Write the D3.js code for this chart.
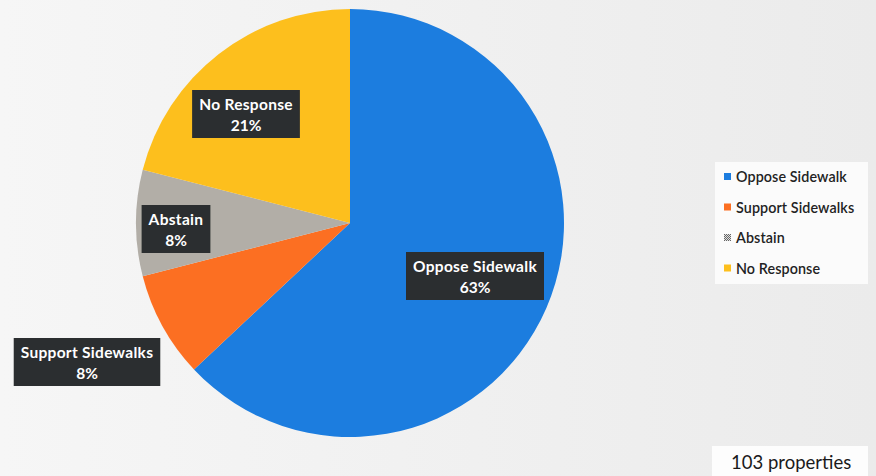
<!DOCTYPE html>
<html>
<head>
<meta charset="utf-8">
<script src="https://cdn.jsdelivr.net/npm/d3@7"></script>
<style>
  html, body { margin: 0; padding: 0; background: #f0f0f0; }
  svg { display: block; }
</style>
</head>
<body>
<svg id="chart" width="876" height="476"></svg>
<script>
const categories = ["Oppose Sidewalk", "Support Sidewalks", "Abstain", "No Response"];
const values = [63, 8, 8, 21];
const percentLabels = ["63%", "8%", "8%", "21%"];
const colors = ["#1c7ddf", "#fc6f22", "#b2aea7", "#fdbf1d"];
const footnote = "103 properties";

const W = 876, H = 476;
const svg = d3.select("#chart");

const defs = svg.append("defs");
const bg = defs.append("linearGradient").attr("id", "bg").attr("x1", 0).attr("x2", 1).attr("y1", 0).attr("y2", 0);
bg.append("stop").attr("offset", "0%").attr("stop-color", "#f6f6f6");
bg.append("stop").attr("offset", "100%").attr("stop-color", "#ebebeb");
const pat = defs.append("pattern").attr("id", "hatch").attr("width", 2).attr("height", 2).attr("patternUnits", "userSpaceOnUse");
pat.append("rect").attr("width", 2).attr("height", 2).attr("fill", "#e0e0e0");
pat.append("rect").attr("width", 1).attr("height", 1).attr("fill", "#666");
pat.append("rect").attr("x", 1).attr("y", 1).attr("width", 1).attr("height", 1).attr("fill", "#666");

svg.append("rect").attr("width", W).attr("height", H).attr("fill", "url(#bg)");

const cx = 350, cy = 223, r = 214;
const pie = d3.pie().sort(null).value(d => d.value);
const arcs = pie(categories.map((c, i) => ({ name: c, value: values[i], label: percentLabels[i], color: colors[i] })));
const arc = d3.arc().innerRadius(0).outerRadius(r);

const g = svg.append("g").attr("transform", `translate(${cx},${cy})`);
g.selectAll("path").data(arcs).join("path")
  .attr("d", arc)
  .attr("fill", d => d.data.color);

const labelPos = {
  "Oppose Sidewalk": [475, 276],
  "Support Sidewalks": [87, 362],
  "Abstain": [176, 229],
  "No Response": [246, 114]
};
const font = "Lato, 'Open Sans', sans-serif";
const lg = svg.append("g");
arcs.forEach(d => {
  const [x, y] = labelPos[d.data.name];
  const grp = lg.append("g").attr("transform", `translate(${x},${y})`);
  const t1 = grp.append("text").attr("text-anchor", "middle").attr("y", -4)
    .attr("fill", "#fff").attr("font-family", font).attr("font-weight", 700).attr("font-size", 15.5)
    .attr("letter-spacing", 0.3)
    .text(d.data.name);
  const t2 = grp.append("text").attr("text-anchor", "middle").attr("y", 17)
    .attr("fill", "#fff").attr("font-family", font).attr("font-weight", 700).attr("font-size", 15.5)
    .text(d.data.label);
  const bw = Math.max(t1.node().getComputedTextLength(), t2.node().getComputedTextLength()) + 14;
  grp.insert("rect", "text").attr("x", -bw / 2).attr("y", -24).attr("width", bw).attr("height", 48)
    .attr("fill", "#2b2e30");
});

const legG = svg.append("g");
legG.append("rect").attr("x", 715).attr("y", 162).attr("width", 153).attr("height", 122).attr("fill", "#fbfbfb");
categories.forEach((c, i) => {
  const y = 177 + i * 30.5;
  legG.append("rect").attr("x", 724).attr("y", y - 4).attr("width", 7).attr("height", 7)
    .attr("fill", i === 2 ? "url(#hatch)" : colors[i]);
  legG.append("text").attr("x", 736).attr("y", y + 5)
    .attr("font-family", font).attr("font-size", 14.3).attr("font-weight", 600).attr("fill", "#222")
    .attr("letter-spacing", 0.1)
    .text(c);
});

svg.append("rect").attr("x", 712).attr("y", 446).attr("width", 156).attr("height", 30).attr("fill", "#fdfdfd");
svg.append("text").attr("x", 731).attr("y", 469)
  .attr("font-family", font).attr("font-size", 18.5).attr("fill", "#1a1a1a").text(footnote);
</script>
</body>
</html>
